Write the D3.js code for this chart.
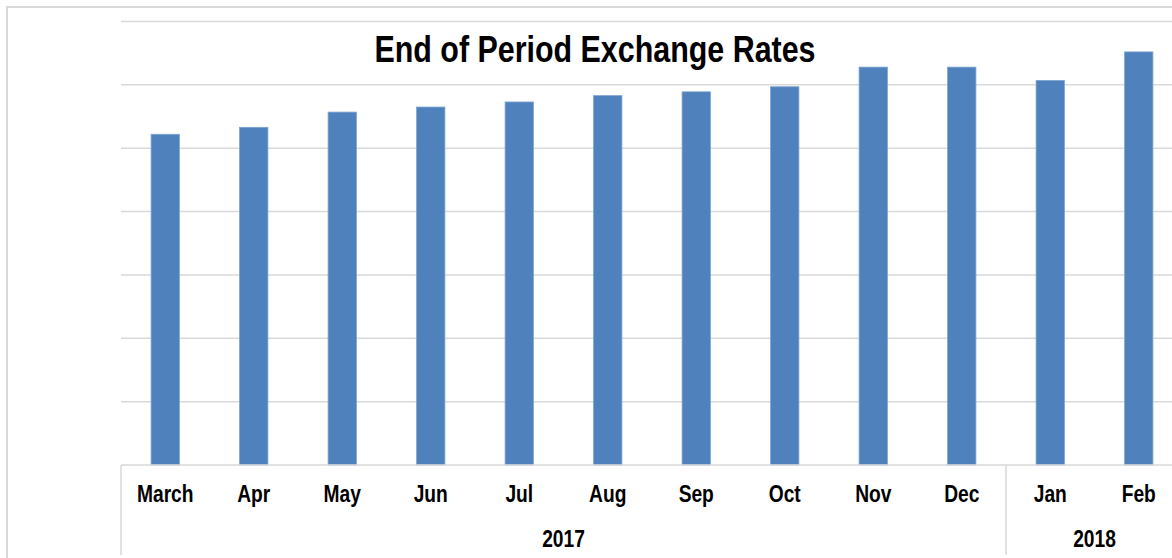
<!DOCTYPE html>
<html>
<head>
<meta charset="utf-8">
<script src="https://cdn.jsdelivr.net/npm/d3@7"></script>
<style>
  html, body { margin: 0; padding: 0; background: #fff; }
  svg { display: block; }
  .grid-line { stroke: #d9d9d9; stroke-width: 1.5; }
  .frame { stroke: #d9d9d9; stroke-width: 2; fill: none; }
  .cat-label, .year-label, .title { font-family: "Liberation Sans", Arial, sans-serif; font-weight: bold; fill: #000; }
</style>
</head>
<body>
<svg id="chart" width="1172" height="558"></svg>
<script>
/* ── Data ─────────────────────────────────────────────────────────────── */
const MONTHS = ['March','Apr','May','Jun','Jul','Aug','Sep','Oct','Nov','Dec','Jan','Feb'];
const YEARS  = [ { label: '2017', from: 0, to: 9 }, { label: '2018', from: 10, to: 11 } ];
// no value axis is printed, values read in gridline units (x10)
const RATES  = [52.2, 53.3, 55.7, 56.5, 57.3, 58.3, 58.9, 59.7, 62.8, 62.8, 60.7, 65.2];
const Y_TICKS = [0, 10, 20, 30, 40, 50, 60, 70];
const TITLE = 'End of Period Exchange Rates';

/* ── Layout ───────────────────────────────────────────────────────────── */
const W = 1172, H = 558;
const M = { l: 121, r: 1183, t: 21.5, b: 465 };
const NARROW = 0.8;   // condensed look of the original labels
const svg = d3.select('#chart');

const x = d3.scaleBand().domain(d3.range(MONTHS.length)).range([M.l, M.r]).paddingInner(0.68).paddingOuter(0.34);
const step = (M.r - M.l) / MONTHS.length;
const y = d3.scaleLinear().domain([0, 70]).range([M.b, M.t]);

// outer chart frame (top + left edges visible)
svg.append('path').attr('class', 'frame').attr('d', `M7,${H} L7,7 L${W},7`);

// gridlines
Y_TICKS.slice(1).forEach(t => {
  svg.append('line').attr('class', 'grid-line')
    .attr('x1', M.l).attr('x2', W).attr('y1', y(t)).attr('y2', y(t));
});

// bars
svg.append('g').selectAll('rect').data(RATES).join('rect')
  .attr('x', (d, i) => x(i))
  .attr('width', x.bandwidth())
  .attr('y', d => y(d))
  .attr('height', d => y(0) - y(d))
  .attr('fill', '#4f81bd')
  .attr('stroke', '#7ea3d2')
  .attr('stroke-width', 0.8);

// category axis line
svg.append('line').attr('class', 'grid-line')
  .attr('x1', M.l).attr('x2', W).attr('y1', y(0)).attr('y2', y(0));

// group separators
const sepX = [M.l, M.l + step * YEARS[1].from];
sepX.forEach(sx => {
  svg.append('line').attr('class', 'grid-line')
    .attr('x1', sx).attr('x2', sx).attr('y1', y(0)).attr('y2', 555);
});

// month labels
svg.append('g').selectAll('text').data(MONTHS).join('text')
  .attr('class', 'cat-label')
  .attr('transform', (d, i) => `translate(${x(i) + x.bandwidth() / 2},${y(0) + 37}) scale(${NARROW},1)`)
  .attr('text-anchor', 'middle')
  .attr('font-size', 24)
  .text(d => d);

// year labels
svg.append('g').selectAll('text').data(YEARS).join('text')
  .attr('class', 'year-label')
  .attr('transform', d => `translate(${M.l + step * (d.from + d.to + 1) / 2},547) scale(${NARROW},1)`)
  .attr('text-anchor', 'middle')
  .attr('font-size', 24)
  .text(d => d.label);

// title
svg.append('text').attr('class', 'title')
  .attr('x', 595).attr('y', 62)
  .attr('text-anchor', 'middle')
  .attr('font-size', 37)
  .attr('textLength', 441)
  .attr('lengthAdjust', 'spacingAndGlyphs')
  .text(TITLE);
</script>
</body>
</html>
